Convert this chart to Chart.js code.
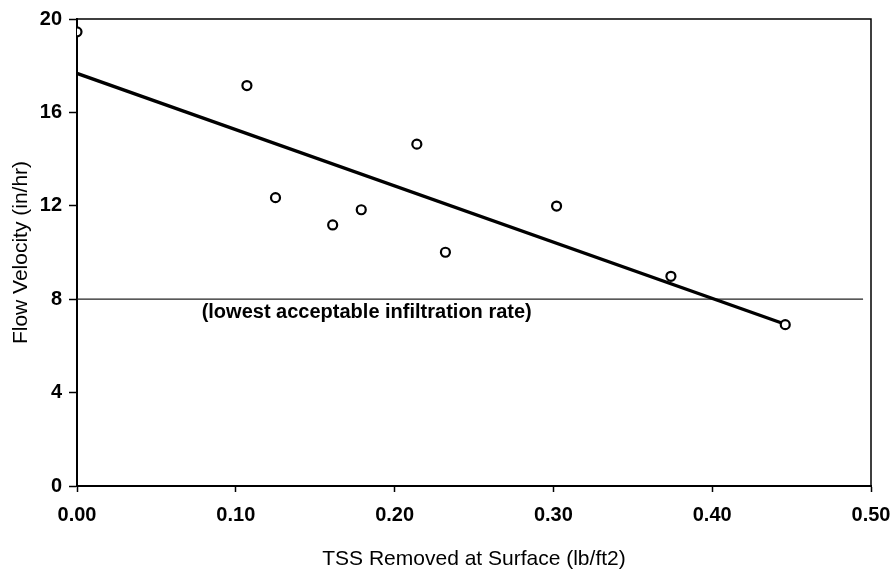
<!DOCTYPE html>
<html>
<head>
<meta charset="utf-8">
<script src="https://cdn.jsdelivr.net/npm/chart.js@4"></script>
<style>
  body { margin: 0; background: #fff; }
  #wrap { width: 896px; height: 572px; }
</style>
</head>
<body>
<div id="wrap"><canvas id="tssChart"></canvas></div>
<script>
// Measured points: TSS removed (lb/ft2) vs flow velocity (in/hr)
const tssRemoved = [0.000, 0.107, 0.125, 0.161, 0.179, 0.214, 0.232, 0.302, 0.374, 0.446];
const flowVelocity = [19.45, 17.15, 12.35, 11.18, 11.83, 14.64, 10.01, 11.99, 8.98, 6.91];

// Fitted trend line end points
const trendX = [0.000, 0.446];
const trendY = [17.67, 6.93];

// Lowest acceptable infiltration rate line
const limitX = [0.000, 0.495];
const limitY = [8, 8];
const limitLabel = "(lowest acceptable infiltration rate)";

const xTicks = [0.0, 0.1, 0.2, 0.3, 0.4, 0.5];
const yTicks = [0, 4, 8, 12, 16, 20];

const FONT = "'Liberation Sans', Arial, sans-serif";

function toPoints(xs, ys) {
    return xs.map((x, i) => ({ x: x, y: ys[i] }));
}

// Draws the top/right frame and the note under the limit line
const framePlugin = {
    id: 'frame',
    afterDraw(chart) {
        const { ctx, chartArea, scales } = chart;
        ctx.save();
        ctx.strokeStyle = '#000';
        ctx.lineWidth = 1.5;
        ctx.beginPath();
        ctx.moveTo(chartArea.left, chartArea.top);
        ctx.lineTo(chartArea.right, chartArea.top);
        ctx.lineTo(chartArea.right, chartArea.bottom);
        ctx.stroke();

        ctx.fillStyle = '#000';
        ctx.font = 'bold 20px ' + FONT;
        ctx.textBaseline = 'alphabetic';
        ctx.textAlign = 'left';
        ctx.fillText(limitLabel, scales.x.getPixelForValue(0.0785), scales.y.getPixelForValue(7.2));
        ctx.restore();
    }
};

const ctx = document.getElementById('tssChart').getContext('2d');
new Chart(ctx, {
    type: 'scatter',
    data: {
        datasets: [
            {
                label: 'Measured',
                data: toPoints(tssRemoved, flowVelocity),
                pointStyle: 'circle',
                pointRadius: 4.5,
                borderWidth: 2.2,
                borderColor: '#000',
                backgroundColor: '#fff',
                order: 0
            },
            {
                label: 'Trend',
                type: 'line',
                data: toPoints(trendX, trendY),
                borderColor: '#000',
                borderWidth: 3.3,
                pointRadius: 0,
                fill: false,
                order: 1
            },
            {
                label: 'Limit',
                type: 'line',
                data: toPoints(limitX, limitY),
                borderColor: '#222',
                borderWidth: 1.3,
                pointRadius: 0,
                fill: false,
                order: 2
            }
        ]
    },
    options: {
        responsive: true,
        maintainAspectRatio: false,
        animation: false,
        layout: { padding: { top: 16, right: 25, bottom: 0, left: 0 } },
        plugins: {
            legend: { display: false },
            tooltip: { enabled: false }
        },
        scales: {
            x: {
                type: 'linear',
                min: 0,
                max: 0.5,
                afterBuildTicks: axis => { axis.ticks = xTicks.map(v => ({ value: v })); },
                afterFit: axis => {
                    axis.height = 86;
                    axis.paddingLeft = 0;
                    axis.paddingRight = 0;
                },
                ticks: {
                    color: '#000',
                    font: { family: FONT, size: 20, weight: 'bold' },
                    padding: 11,
                    maxRotation: 0,
                    callback: v => Number(v).toFixed(2)
                },
                grid: { drawOnChartArea: false, tickLength: 6, color: '#000', tickWidth: 1.5 },
                border: { color: '#000', width: 2 },
                title: {
                    display: true,
                    text: 'TSS Removed at Surface (lb/ft2)',
                    color: '#000',
                    font: { family: FONT, size: 21 },
                    padding: { top: 0, bottom: 0 }
                }
            },
            y: {
                min: 0,
                max: 20,
                afterBuildTicks: axis => { axis.ticks = yTicks.map(v => ({ value: v })); },
                afterFit: axis => { axis.width = 77; },
                ticks: {
                    color: '#000',
                    font: { family: FONT, size: 20, weight: 'bold' },
                    padding: 7
                },
                grid: { drawOnChartArea: false, tickLength: 8, color: '#000', tickWidth: 1.5 },
                border: { color: '#000', width: 2 },
                title: {
                    display: true,
                    text: 'Flow Velocity (in/hr)',
                    color: '#000',
                    font: { family: FONT, size: 21 },
                    padding: { top: 9, bottom: 0 }
                }
            }
        }
    },
    plugins: [framePlugin]
});
</script>
</body>
</html>
